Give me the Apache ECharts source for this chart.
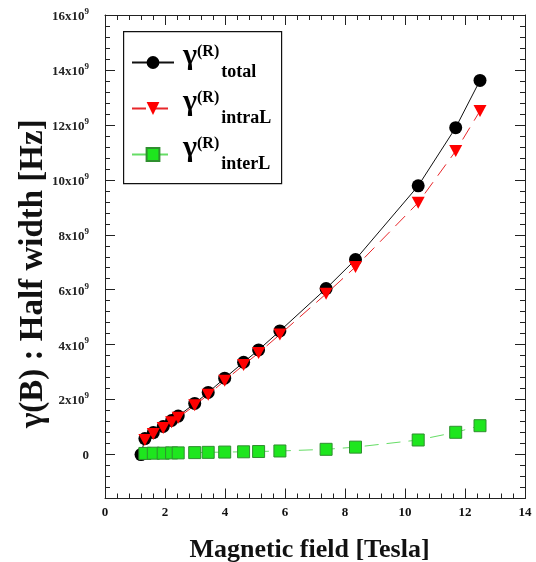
<!DOCTYPE html>
<html><head><meta charset="utf-8">
<script src="https://cdn.jsdelivr.net/npm/echarts@6/dist/echarts.min.js"></script>
<style>html,body{margin:0;padding:0;background:#fff}#c{width:536px;height:562px}</style>
</head><body><div id="c"></div>
<script>
// Magnetic field [Tesla]
const totalB = [1.2, 1.33, 1.61, 1.94, 2.22, 2.44, 2.99, 3.44, 3.99, 4.62, 5.12, 5.83, 7.37, 8.35, 10.44, 11.69, 12.5];
const fieldB = [1.33, 1.61, 1.94, 2.22, 2.44, 2.99, 3.44, 3.99, 4.62, 5.12, 5.83, 7.37, 8.35, 10.44, 11.69, 12.5];
// half widths in units of 10^9 Hz
const totalW = [0, 0.58, 0.8, 1.02, 1.24, 1.4, 1.86, 2.26, 2.78, 3.36, 3.81, 4.5, 6.04, 7.1, 9.78, 11.9, 13.62];
const intraW = [0.53, 0.75, 0.97, 1.18, 1.34, 1.79, 2.18, 2.69, 3.26, 3.7, 4.37, 5.85, 6.83, 9.17, 11.05, 12.51];
const interW = [0.04, 0.05, 0.05, 0.06, 0.06, 0.07, 0.08, 0.09, 0.1, 0.11, 0.13, 0.19, 0.27, 0.53, 0.81, 1.05];
const seriesNames = ['total', 'intraL', 'interL'];
const xTicks = [0, 2, 4, 6, 8, 10, 12, 14];
const yTicks = [0, 2, 4, 6, 8, 10, 12, 14, 16];
const yMin = -1.6, yMinorStep = 0.4;

const FONT = '"Liberation Serif", "Times New Roman", serif';
const AX = '#222';
const pairs = (xs, ys) => xs.map((x, i) => [x, ys[i]]);

const GTOP = 15, GLEFT = 105, GRIGHT = 11, GBOTTOM = 63.5;
const gridH = 562 - GTOP - GBOTTOM;
const yMax = yTicks[yTicks.length - 1];
const zeroPx = GTOP + gridH * (yMax / (yMax - yMin));

const chart = echarts.init(document.getElementById('c'), null, {renderer: 'canvas'});
const line = {onZero: false, lineStyle: {color: AX, width: 1}};
const yLab = v => Math.abs(v) < 1e-9 ? '{n|0}' : '{n|' + v + 'x10}{s|9}';
chart.setOption({
  animation: false,
  backgroundColor: '#fff',
  grid: [
    {left: GLEFT, right: GRIGHT, top: GTOP, bottom: GBOTTOM, containLabel: false, outerBoundsMode: 'none'},
    {left: GLEFT, right: GRIGHT, top: GTOP, bottom: 562 - zeroPx, containLabel: false, outerBoundsMode: 'none'}
  ],
  xAxis: [
    {
      type: 'value', gridIndex: 0, position: 'bottom', min: xTicks[0], max: xTicks[xTicks.length - 1], interval: 2,
      splitLine: {show: false}, axisLine: line,
      axisTick: {inside: true, length: 10, lineStyle: {color: AX}},
      minorTick: {show: true, splitNumber: 5, length: 5, lineStyle: {color: AX}},
      minorSplitLine: {show: false},
      axisLabel: {margin: 8, color: '#111', fontFamily: FONT, fontWeight: 'bold', fontSize: 13},
      name: 'Magnetic field [Tesla]', nameLocation: 'middle', nameGap: 39,
      nameTextStyle: {fontFamily: FONT, fontWeight: 'bold', fontSize: 26, color: '#111', padding: [0, 11, 0, 0]}
    },
    {
      type: 'value', gridIndex: 0, position: 'top', min: xTicks[0], max: xTicks[xTicks.length - 1], interval: 2,
      splitLine: {show: false}, axisLine: line,
      axisTick: {inside: true, length: 10, lineStyle: {color: AX}},
      minorTick: {show: true, splitNumber: 5, length: 5, lineStyle: {color: AX}},
      axisLabel: {show: false}
    },
    {type: 'value', gridIndex: 1, show: false, min: xTicks[0], max: xTicks[xTicks.length - 1]}
  ],
  yAxis: [
    {
      type: 'value', gridIndex: 0, position: 'left', min: yMin, max: yMax, interval: yMinorStep,
      splitLine: {show: false}, axisLine: line,
      axisTick: {inside: true, length: 5, lineStyle: {color: AX}},
      axisLabel: {show: false},
      name: 'γ(B) : Half width [Hz]', nameLocation: 'middle', nameGap: 55,
      nameTextStyle: {fontFamily: FONT, fontWeight: 'bold', fontSize: 33, color: '#111', padding: [0, 34, 0, 0]}
    },
    {
      type: 'value', gridIndex: 0, position: 'right', min: yMin, max: yMax, interval: yMinorStep,
      splitLine: {show: false}, axisLine: line,
      axisTick: {inside: true, length: 5, lineStyle: {color: AX}},
      axisLabel: {show: false}
    },
    {
      type: 'value', gridIndex: 1, position: 'left', min: yTicks[0], max: yMax, interval: 2,
      splitLine: {show: false}, axisLine: {show: false, onZero: false},
      axisTick: {show: true, inside: true, length: 10, lineStyle: {color: AX}},
      axisLabel: {
        margin: 16, formatter: yLab,
        rich: {
          n: {fontFamily: FONT, fontWeight: 'bold', fontSize: 13, color: '#222', lineHeight: 16, verticalAlign: 'bottom'},
          s: {fontFamily: FONT, fontWeight: 'bold', fontSize: 9, color: '#222', lineHeight: 10, verticalAlign: 'top'}
        }
      }
    },
    {
      type: 'value', gridIndex: 1, position: 'right', min: yTicks[0], max: yMax, interval: 2,
      splitLine: {show: false}, axisLine: {show: false, onZero: false},
      axisTick: {show: true, inside: true, length: 10, lineStyle: {color: AX}},
      axisLabel: {show: false}
    }
  ],
  graphic: [{
    type: 'rect', left: 123, top: 31, z: 5,
    shape: {width: 158, height: 152},
    style: {fill: '#fff', stroke: '#111', lineWidth: 1.2}
  }],
  legend: {
    left: 131, top: 41, orient: 'vertical', padding: 0, itemGap: 6, z: 10,
    itemWidth: 42, itemHeight: 16, selectedMode: false,
    data: seriesNames,
    formatter: name => '{g|γ}{sup|(R)}{sub|' + name + '}',
    textStyle: {
      rich: {
        g: {fontFamily: FONT, fontWeight: 'bold', fontSize: 30, color: '#000', lineHeight: 37, verticalAlign: 'bottom', padding: [0, 0, 10, 4]},
        sup: {fontFamily: FONT, fontWeight: 'bold', fontSize: 16, color: '#000', lineHeight: 37, verticalAlign: 'top'},
        sub: {fontFamily: FONT, fontWeight: 'bold', fontSize: 18, color: '#000', lineHeight: 37, verticalAlign: 'bottom', padding: [0, 0, 0, 2]}
      }
    }
  },
  series: [
    {
      name: seriesNames[0], type: 'line', xAxisIndex: 0, yAxisIndex: 0,
      data: pairs(totalB, totalW),
      symbol: 'circle', symbolSize: 13,
      itemStyle: {color: '#000'},
      lineStyle: {color: '#111', width: 1}
    },
    {
      name: seriesNames[1], type: 'line', xAxisIndex: 0, yAxisIndex: 0,
      data: pairs(fieldB, intraW),
      symbol: 'triangle', symbolRotate: 180, symbolSize: [13, 12],
      itemStyle: {color: '#ff0000'},
      lineStyle: {color: '#e8262a', width: 1, type: [14, 8]}
    },
    {
      name: seriesNames[2], type: 'line', xAxisIndex: 0, yAxisIndex: 0,
      data: pairs(fieldB, interW),
      symbol: 'rect', symbolSize: 12,
      itemStyle: {color: '#1ee61e', borderColor: '#2f8f2f', borderWidth: 1},
      lineStyle: {color: '#66dd66', width: 1, type: [14, 8]}
    }
  ]
});
</script></body></html>
